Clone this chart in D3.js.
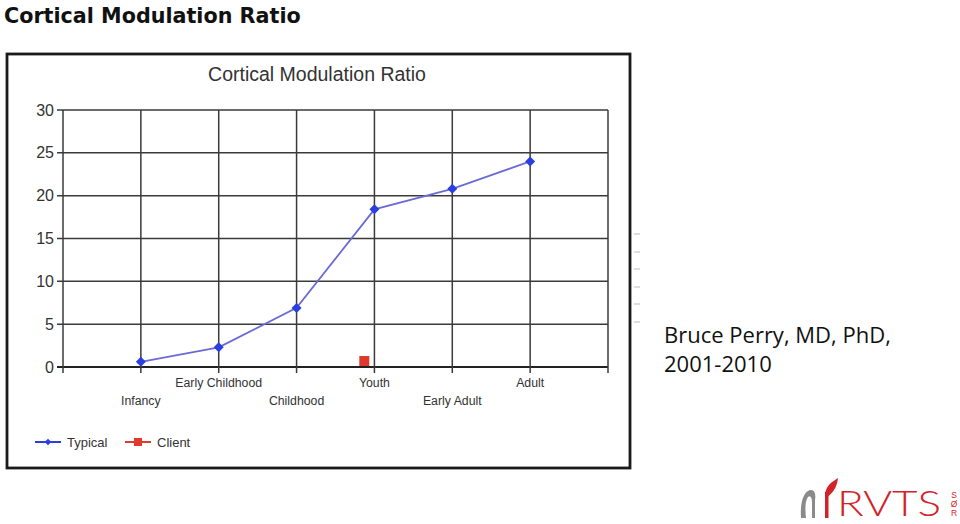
<!DOCTYPE html>
<html>
<head>
<meta charset="utf-8">
<script src="https://cdn.jsdelivr.net/npm/d3@7"></script>
<style>
  html, body { margin: 0; padding: 0; background: #fff; }
  svg { display: block; }
</style>
</head>
<body>
<svg id="c" width="960" height="524"></svg>
<script>
// ---- data ----
const categories = ["Infancy", "Early Childhood", "Childhood", "Youth", "Early Adult", "Adult"];
const typicalValues = [0.6, 2.3, 6.9, 18.4, 20.8, 24.0];
const clientPositions = [3.87];   // position on category index axis (Youth is 4)
const clientValues = [0.7];
const yTicks = [0, 5, 10, 15, 20, 25, 30];
const xGridPositions = [0, 1, 2, 3, 4, 5, 6, 7];
const seriesNames = ["Typical", "Client"];
const seriesColors = ["#2a3fe0", "#e03a2f"];

const svg = d3.select("#c");

// page title
svg.append("text").attr("x", 4).attr("y", 23)
  .attr("font-family", "DejaVu Sans, Verdana, sans-serif")
  .attr("font-weight", "bold").attr("font-size", 20.7)
  .attr("fill", "#111").text("Cortical Modulation Ratio");

// outer frame
svg.append("rect").attr("x", 7).attr("y", 54).attr("width", 623).attr("height", 414)
  .attr("fill", "#fff").attr("stroke", "#1a1a1a").attr("stroke-width", 2.8);

// inner chart title
svg.append("text").attr("x", 317).attr("y", 81).attr("text-anchor", "middle")
  .attr("font-family", "Liberation Sans, Arial, sans-serif").attr("font-size", 19.5)
  .attr("fill", "#333").text("Cortical Modulation Ratio");

const x = d3.scaleLinear().domain([0, 7]).range([63, 608]);
const y = d3.scaleLinear().domain([0, 30]).range([367, 110]);

const g = svg.append("g");
const gridColor = "#3a3a3a";

// horizontal grid
g.selectAll("line.hg").data(yTicks).join("line")
  .attr("x1", x(0) - 6).attr("x2", x(7))
  .attr("y1", d => y(d)).attr("y2", d => y(d))
  .attr("stroke", d => d === 0 ? "#222" : gridColor).attr("stroke-width", d => d === 0 ? 2 : 1.5);

// vertical grid
g.selectAll("line.vg").data(xGridPositions).join("line")
  .attr("x1", d => x(d)).attr("x2", d => x(d))
  .attr("y1", y(30)).attr("y2", y(0) + 6)
  .attr("stroke", gridColor).attr("stroke-width", 1.5);

// y tick labels
g.selectAll("text.yt").data(yTicks).join("text")
  .attr("x", x(0) - 9).attr("y", d => y(d) + 5.5)
  .attr("text-anchor", "end")
  .attr("font-family", "Liberation Sans, Arial, sans-serif").attr("font-size", 16)
  .attr("fill", "#333").text(d => d);

// x category labels (staggered)
g.selectAll("text.xt").data(categories).join("text")
  .attr("x", (d, i) => x(i + 1))
  .attr("y", (d, i) => i % 2 === 1 ? 387 : 405)
  .attr("text-anchor", "middle")
  .attr("font-family", "Liberation Sans, Arial, sans-serif").attr("font-size", 12.3)
  .attr("fill", "#333").text(d => d);

// typical line
const line = d3.line().x((d, i) => x(i + 1)).y(d => y(d));
g.append("path").datum(typicalValues).attr("d", line)
  .attr("fill", "none").attr("stroke", "#6b6bd6").attr("stroke-width", 1.8);

const diamond = d3.symbol().type(d3.symbolSquare).size(50);
g.selectAll("path.pt").data(typicalValues).join("path")
  .attr("transform", (d, i) => `translate(${x(i + 1)},${y(d)}) rotate(45)`)
  .attr("d", diamond).attr("fill", seriesColors[0]);

// client points
g.selectAll("rect.cl").data(clientValues).join("rect")
  .attr("x", (d, i) => x(clientPositions[i]) - 5)
  .attr("y", d => y(d) - 5)
  .attr("width", 10).attr("height", 10)
  .attr("fill", seriesColors[1]);

// legend
const lg = svg.append("g");
const legendX = [35, 125];
seriesNames.forEach((name, i) => {
  const lx = legendX[i];
  lg.append("line").attr("x1", lx).attr("x2", lx + 26).attr("y1", 442).attr("y2", 442)
    .attr("stroke", seriesColors[i]).attr("stroke-width", 2);
  if (i === 0) {
    lg.append("path").attr("transform", `translate(${lx + 13},442) rotate(45)`)
      .attr("d", d3.symbol().type(d3.symbolSquare).size(22)).attr("fill", seriesColors[i]);
  } else {
    lg.append("rect").attr("x", lx + 9).attr("y", 438).attr("width", 8).attr("height", 8)
      .attr("fill", seriesColors[i]);
  }
  lg.append("text").attr("x", lx + 32).attr("y", 446.5)
    .attr("font-family", "Liberation Sans, Arial, sans-serif").attr("font-size", 13)
    .attr("fill", "#333").text(name);
});

// faint right-side dashes
const dashY = [234, 252, 269, 287, 304, 322];
svg.selectAll("line.rd").data(dashY).join("line")
  .attr("x1", 634).attr("x2", 640).attr("y1", d => d).attr("y2", d => d)
  .attr("stroke", "#bbb").attr("stroke-width", 1);

// citation text
svg.append("text").attr("x", 664).attr("y", 343)
  .attr("font-family", "Open Sans, Noto Sans, sans-serif").attr("font-size", 22)
  .attr("fill", "#111").text("Bruce Perry, MD, PhD,");
svg.append("text").attr("x", 664).attr("y", 372)
  .attr("font-family", "Open Sans, Noto Sans, sans-serif").attr("font-size", 22)
  .attr("fill", "#111").text("2001-2010");

// logo
const logo = svg.append("g");
logo.append("path")
  .attr("d", "M801,518 C800,504 803,492 810,490 C815,489 816,495 815,500 L815,518 L812,518 L812,502 C812,497 810,495 808,497 C805,501 805,510 806,518 Z")
  .attr("fill", "#8a8a8a");
logo.append("rect").attr("x", 825).attr("y", 492).attr("width", 3.5).attr("height", 26).attr("fill", "#d2232a");
logo.append("path")
  .attr("d", "M825,495 C826,485 832,482 838,478 C837,488 832,494 826,498 Z")
  .attr("fill", "#d2232a");
logo.append("text").attr("x", 837).attr("y", 516)
  .attr("font-family", "Lato, Noto Sans, sans-serif").attr("font-weight", 300)
  .attr("font-size", 35).attr("fill", "#d2232a")
  .attr("textLength", 104).attr("lengthAdjust", "spacingAndGlyphs").text("RVTS");
["S", "Ø", "R"].forEach((ch, i) => {
  logo.append("text").attr("x", 954).attr("y", 498 + i * 9).attr("text-anchor", "middle")
    .attr("font-family", "Liberation Sans, Arial, sans-serif").attr("font-size", 8.5)
    .attr("fill", "#d2232a").text(ch);
});
</script>
</body>
</html>
